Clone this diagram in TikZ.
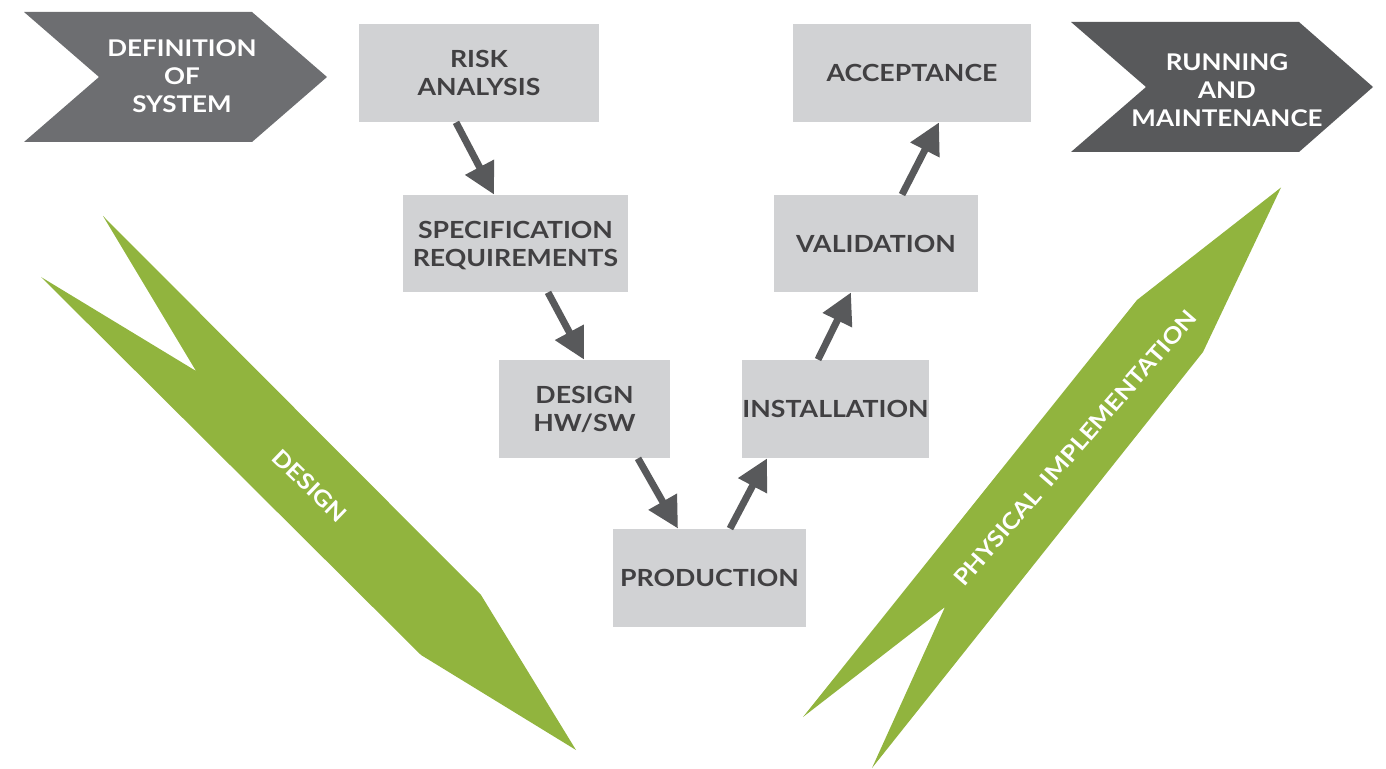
\documentclass[tikz,border=0pt]{standalone}
\usepackage{fontspec}
\setmainfont{Lato}[FakeStretch=1.13]
\usetikzlibrary{arrows.meta,calc}
\definecolor{boxgray}{HTML}{D1D2D4}
\definecolor{txtdark}{HTML}{414042}
\definecolor{arrgray}{HTML}{58595B}
\definecolor{chevA}{HTML}{6D6E71}
\definecolor{chevB}{HTML}{58595B}
\definecolor{leaf}{HTML}{91B43E}
\begin{document}
\begin{tikzpicture}[x=0.5pt,y=-0.5pt,
  stage/.style={fill=boxgray, inner sep=0pt, align=center, text=txtdark, text depth=-2pt,
    font=\bfseries\fontsize{11.8pt}{14pt}\selectfont},
  flow/.style={draw=arrgray, line width=3.5pt, -{Triangle[length=15.5pt,width=15.5pt]}},
  chevtext/.style={text=white, align=center, inner sep=0pt, text depth=0pt,
    font=\bfseries\fontsize{11.5pt}{14pt}\selectfont},
  leaftext/.style={text=white, inner sep=0pt,
    font=\bfseries\fontsize{11.2pt}{13pt}\selectfont}]
\useasboundingbox (0,0) rectangle (1386,769);

% chevrons
\fill[chevA] (24,12) -- (252,12) -- (327,77) -- (252,142) -- (24,142) -- (99,77) -- cycle;
\node[chevtext] (defn) at (182,76.5) {DEFINITION\\OF\\SYSTEM};
\fill[chevB] (1071,22) -- (1299,22) -- (1373,87) -- (1299,152) -- (1071,152) -- (1146,87) -- cycle;
\node[chevtext] (run) at (1227,90) {RUNNING\\AND\\MAINTENANCE};

% green arrows
\fill[leaf] (103,216) -- (196,371) -- (41,277) -- (421,655) -- (576,750) -- (481,595) -- cycle;
\node[leaftext, rotate=-44] (dsg) at (310,486) {DESIGN};
\fill[leaf] (1281,187.5) -- (1203,352) -- (872,768) -- (945,607) -- (803,717) -- (1137,300) -- cycle;
\node[leaftext, rotate=49] (phys) at (1075,448) {PHYSICAL\ \ IMPLEMENTATION};

% stages
\node[stage, minimum width=120pt, minimum height=49pt] (risk) at (479,73) {RISK\\ANALYSIS};
\node[stage, minimum width=112.5pt, minimum height=48.5pt] (spec) at (515.5,243.5) {SPECIFICATION\\REQUIREMENTS};
\node[stage, minimum width=85.5pt, minimum height=49pt] (dhw) at (584.5,409) {DESIGN\\HW/SW};
\node[stage, minimum width=96.5pt, minimum height=49pt] (prod) at (709.5,578) {PRODUCTION};
\node[stage, minimum width=93.5pt, minimum height=49pt] (inst) at (835.5,409) {INSTALLATION};
\node[stage, minimum width=102pt, minimum height=48.5pt] (val) at (876,243.5) {VALIDATION};
\node[stage, minimum width=119pt, minimum height=49pt] (acc) at (912,73) {ACCEPTANCE};

% connectors
\draw[flow] ($(risk.south)+(-23,0)$) -- ($(spec.north)+(-21.5,0)$);
\draw[flow] ($(spec.south)+(32.5,0)$) -- ($(dhw.north)+(-0.5,0)$);
\draw[flow] ($(dhw.south)+(53.5,0)$) -- ($(prod.north)+(-31.5,0)$);
\draw[flow] ($(prod.north)+(20.5,0)$) -- ($(inst.south)+(-68.5,0)$);
\draw[flow] ($(inst.north)+(-17.5,0)$) -- ($(val.south)+(-25,0)$);
\draw[flow] ($(val.north)+(26,0)$) -- ($(acc.south)+(27,0)$);
\end{tikzpicture}
\end{document}
